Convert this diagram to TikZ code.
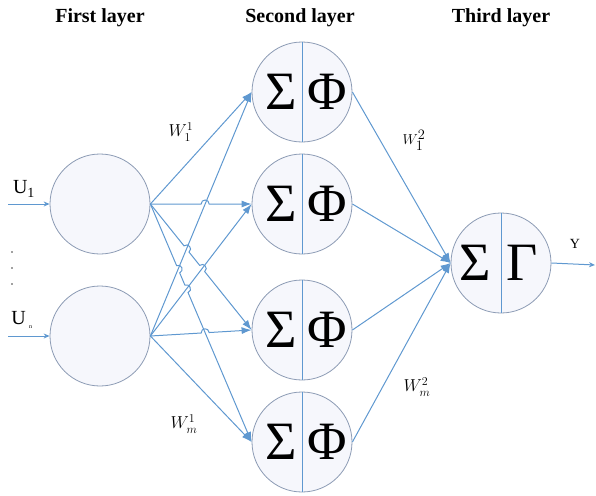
\documentclass[tikz,border=0pt]{standalone}
\usepackage{fontspec}
\setmainfont{Liberation Serif}
\usetikzlibrary{arrows.meta,calc}
\definecolor{lineblue}{RGB}{95,152,208}
\definecolor{circgray}{RGB}{140,155,180}
\definecolor{circfill}{RGB}{246,247,252}
\begin{document}
\begin{tikzpicture}[x=1pt,y=-1pt,
  neuron/.style={circle,draw=circgray,fill=circfill,line width=0.8pt,minimum size=100pt,inner sep=0pt},
  conn/.style={draw=lineblue,line width=1pt},
  tip/.style={-{Latex[length=10pt,width=7pt]}},
  smalltip/.style={-{Stealth[length=6pt,width=5pt]}},
  divider/.style={draw=lineblue,line width=0.8pt},
  bigsym/.style={font=\fontsize{54}{54}\selectfont,inner sep=0pt},
  layertitle/.style={font=\fontsize{20}{20}\selectfont\bfseries},
  wlab/.style={font=\fontsize{17}{17}\selectfont,inner sep=0pt},
  ulab/.style={font=\fontsize{20}{20}\selectfont,inner sep=0pt},
  hop/.style={bend left=90,looseness=1.7}]
\useasboundingbox (0,0) rectangle (596,495);

% titles
\node[layertitle] (t1) at (100,18) {First layer};
\node[layertitle] (t2) at (300,18) {Second layer};
\node[layertitle] (t3) at (501,18) {Third layer};

% first layer
\node[neuron] (L1) at (100,204) {};
\node[neuron] (L2) at (100,336) {};

% second layer
\foreach \n/\yy in {1/92,2/204,3/330,4/442}{
  \node[neuron] (S\n) at (302,\yy) {};
  \draw[divider] (S\n.north) -- (S\n.south);
  \node[bigsym] (S\n s) at ($(S\n)+(-21,0)$) {Σ};
  \node[bigsym] (S\n f) at ($(S\n)+(25,0)$) {Φ};
}

% third layer
\node[neuron] (T) at (501,263) {};
\draw[divider] (T.north) -- (T.south);
\node[bigsym] (Ts) at ($(T)+(-26,0)$) {Σ};
\node[bigsym] (Tg) at ($(T)+(21,0)$) {Γ};

% anchors
\coordinate (o1) at (L1.east);
\coordinate (o2) at (L2.east);
\coordinate (i1) at (S1.west);
\coordinate (i2) at (S2.west);
\coordinate (i3) at (S3.west);
\coordinate (i4) at (S4.west);

% crossings
\coordinate (x21) at (intersection of o1--i2 and o2--i1);
\coordinate (x31) at (intersection of o1--i3 and o2--i1);
\coordinate (x32) at (intersection of o1--i3 and o2--i2);
\coordinate (x41) at (intersection of o1--i4 and o2--i1);
\coordinate (x42) at (intersection of o1--i4 and o2--i2);
\coordinate (x43) at (intersection of o1--i4 and o2--i3);

% inputs
\coordinate (in1) at (8,204);
\coordinate (in2) at (8,336);
\draw[conn,smalltip] (in1) -- (L1.west);
\draw[conn,smalltip] (in2) -- (L2.west);
\node[ulab] (u1) at (24,189) {U\textsubscript{1}};
\node[ulab] (u2) at (22,320) {U\,\textsubscript{\fontsize{6}{6}\selectfont n}};
\foreach \yy in {252,268,284} \fill[black!75] (12,\yy) circle (0.9pt);

% first -> second layer
\draw[conn,tip] (o1) -- (i1);
\draw[conn,tip] (o1) -- ($(x21)!4pt!(o1)$) to[hop] ($(x21)!4pt!(i2)$) -- (i2);
\draw[conn,tip] (o1) -- ($(x31)!4pt!(o1)$) to[hop] ($(x31)!4pt!(i3)$)
   -- ($(x32)!4pt!(o1)$) to[hop] ($(x32)!4pt!(i3)$) -- (i3);
\draw[conn,tip] (o1) -- ($(x41)!4pt!(o1)$) to[hop] ($(x41)!4pt!(i4)$)
   -- ($(x42)!4pt!(o1)$) to[hop] ($(x42)!4pt!(i4)$) -- (i4);
\draw[conn,tip] (o2) -- (i1);
\draw[conn,tip] (o2) -- (i2);
\draw[conn,tip] (o2) -- ($(x43)!4pt!(o2)$) to[hop] ($(x43)!4pt!(i3)$) -- (i3);
\draw[conn,tip] (o2) -- (i4);

% second -> third layer
\foreach \n in {1,2,3,4} \draw[conn,tip] (S\n.east) -- (T.west);

% output
\coordinate (out) at (595,265);
\draw[conn,smalltip] (T.east) -- (out);
\node[font=\fontsize{14}{14}\selectfont,inner sep=0pt] (ylab) at (575,244) {Y};

% weights
\node[wlab] (w11) at (181,132) {$W_1^1$};
\node[wlab] (wm1) at (184,424) {$W_m^1$};
\node[wlab,font=\fontsize{14}{14}\selectfont] (w12) at (414,140) {$W_{\textstyle 1}^{\textstyle 2}$};
\node[wlab] (wm2) at (417,387) {$W_m^2$};
\end{tikzpicture}
\end{document}
